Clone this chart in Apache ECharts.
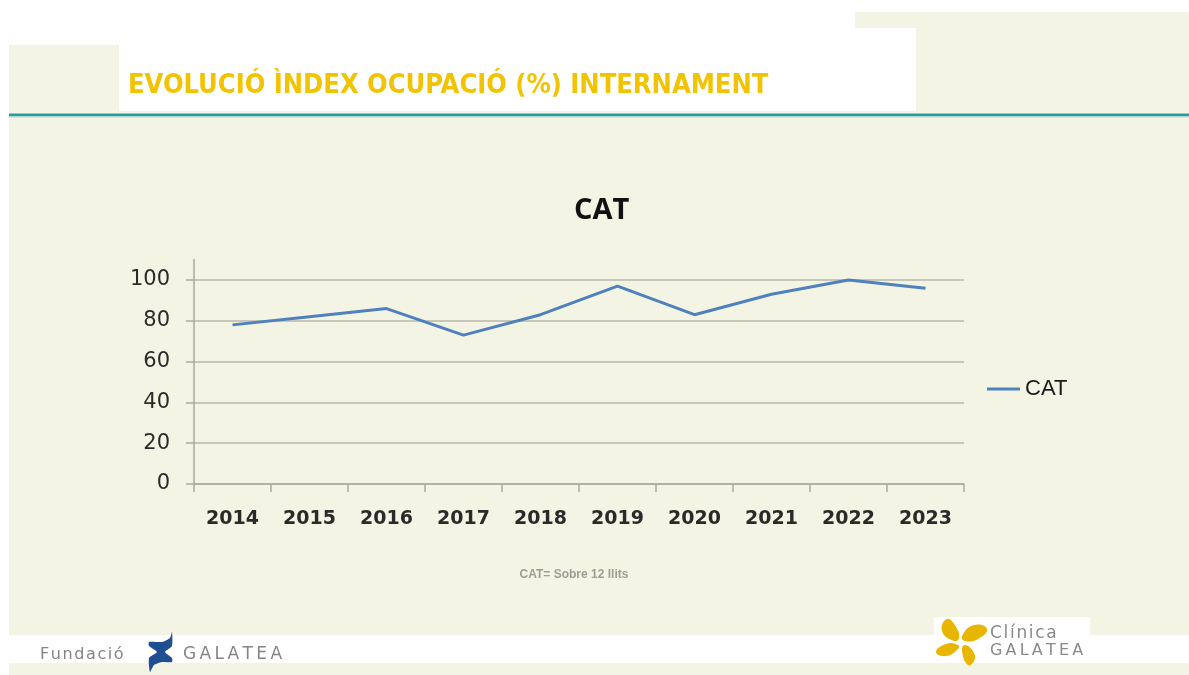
<!DOCTYPE html>
<html>
<head>
<meta charset="utf-8">
<script src="https://cdn.jsdelivr.net/npm/echarts@6/dist/echarts.min.js"></script>
<style>
  html, body { margin: 0; padding: 0; background: #fff; }
  #chart { width: 1189px; height: 675px; }
</style>
</head>
<body>
<div id="chart"></div>
<script>
// dades llegides del gràfic
const years = ['2014', '2015', '2016', '2017', '2018', '2019', '2020', '2021', '2022', '2023'];
const catValues = [78, 82, 86, 73, 83, 97, 83, 93, 100, 96];
const yTicks = [0, 20, 40, 60, 80, 100];
const seriesName = 'CAT';
const slideTitle = 'EVOLUCIÓ ÌNDEX OCUPACIÓ (%) INTERNAMENT';
const footNote = 'CAT= Sobre 12 llits';

const cream = '#f4f4e4';
const blue = '#4f81bd';
const gold = '#e8b600';
const thin = '\u2009';
const hair = '\u200a';

// text amb espai entre lletres
function spaced(s, sep) {
  return s.split('').join(sep);
}

const chart = echarts.init(document.getElementById('chart'));

chart.setOption({
  backgroundColor: '#fff',
  animation: false,
  title: {
    text: seriesName,
    left: 574,
    top: 196,
    padding: 0,
    textStyle: { fontFamily: 'Open Sans', fontWeight: 'bold', fontSize: 29, color: '#111' }
  },
  legend: {
    orient: 'vertical',
    left: 987,
    top: 378,
    padding: 0,
    itemWidth: 33,
    itemHeight: 3,
    data: [{ name: seriesName, icon: 'rect' }],
    textStyle: { fontFamily: 'Liberation Sans', fontSize: 22, color: '#1a1a1a' }
  },
  grid: {
    left: 194,
    right: 225,
    top: 259.6,
    bottom: 191
  },
  xAxis: {
    type: 'category',
    data: years,
    boundaryGap: true,
    axisLine: { lineStyle: { color: '#a9a99f', width: 1.5 } },
    axisTick: { show: true, length: 8, lineStyle: { color: '#a9a99f', width: 1.5 } },
    axisLabel: {
      margin: 26,
      fontFamily: 'DejaVu Sans',
      fontWeight: 'bold',
      fontSize: 19,
      color: '#2a2a2a'
    }
  },
  yAxis: {
    type: 'value',
    min: 0,
    max: 110,
    interval: 20,
    axisLine: { show: true, lineStyle: { color: '#a9a99f', width: 1.5 } },
    axisTick: { show: true, length: 8, customValues: yTicks, lineStyle: { color: '#a9a99f', width: 1.5 } },
    axisLabel: {
      customValues: yTicks,
      margin: 24,
      fontFamily: 'DejaVu Sans',
      fontSize: 21,
      color: '#2a2a2a'
    },
    splitLine: {
      lineStyle: {
        // l'últim (110) no es dibuixa
        color: ['#b8b8ab', '#b8b8ab', '#b8b8ab', '#b8b8ab', '#b8b8ab', '#b8b8ab', 'rgba(0,0,0,0)'],
        width: 1.5
      }
    }
  },
  series: [
    {
      name: seriesName,
      type: 'line',
      data: catValues,
      symbol: 'none',
      lineStyle: { color: blue, width: 3 },
      itemStyle: { color: blue }
    }
  ],
  graphic: [
    // fons de la diapositiva
    { type: 'rect', z: -10, shape: { x: 9, y: 45, width: 1180, height: 630 }, style: { fill: cream } },
    { type: 'rect', z: -10, shape: { x: 855, y: 12, width: 334, height: 40 }, style: { fill: cream } },
    { type: 'rect', z: -9, shape: { x: 119, y: 28, width: 797, height: 83 }, style: { fill: '#fff' } },
    { type: 'rect', z: -9, shape: { x: 9, y: 113.5, width: 1180, height: 2.5 }, style: { fill: '#2b9c9e' } },
    { type: 'rect', z: -9, shape: { x: 9, y: 116, width: 1180, height: 1.5 }, style: { fill: '#a9dad6' } },
    { type: 'rect', z: -9, shape: { x: 9, y: 635, width: 1180, height: 28 }, style: { fill: '#fff' } },
    { type: 'rect', z: -9, shape: { x: 934, y: 617, width: 156, height: 46 }, style: { fill: '#fff' } },
    // títol de la diapositiva
    {
      type: 'text', z: 5, x: 128, y: 86,
      style: {
        text: slideTitle, fill: '#f2c300',
        font: 'bold 27px "DejaVu Sans Condensed", "DejaVu Sans"',
        textVerticalAlign: 'middle'
      }
    },
    // resta tallada a dalt
    {
      type: 'text', z: 5, x: 503, y: 0,
      style: { text: '(%)', fill: '#f2c300', font: 'bold 27px "DejaVu Sans Condensed", "DejaVu Sans"', textVerticalAlign: 'bottom' }
    },
    // nota
    {
      type: 'text', z: 5, x: 574, y: 575,
      style: {
        text: footNote, fill: '#9d9d95', font: 'bold 12px "Liberation Sans"',
        textAlign: 'center', textVerticalAlign: 'middle'
      }
    },
    // logo Fundació
    {
      type: 'text', z: 5, x: 40, y: 655,
      style: { text: spaced('Fundació', hair), fill: '#858585', font: '16px "DejaVu Sans"', textVerticalAlign: 'middle' }
    },
    {
      type: 'polygon', z: 5,
      shape: {
        points: [[172, 632], [170, 638], [162, 642], [149, 642], [149, 646], [157, 652], [149, 658],
                 [150, 672], [154, 665], [162, 662], [172, 662], [172, 658], [165, 652], [172, 646]],
        smooth: 0.2
      },
      style: { fill: '#1f4f91' }
    },
    {
      type: 'text', z: 5, x: 183, y: 655,
      style: { text: spaced('GALATEA', thin), fill: '#858585', font: '17px "DejaVu Sans"', textVerticalAlign: 'middle' }
    },
    // logo Clínica
    {
      type: 'polygon', z: 5,
      shape: { points: [[947, 619], [942, 631], [954, 641], [959, 638], [956, 627]], smooth: 0.5 },
      style: { fill: gold }
    },
    {
      type: 'polygon', z: 5,
      shape: { points: [[987, 629], [974, 625], [962, 636], [965, 641], [978, 639]], smooth: 0.5 },
      style: { fill: gold }
    },
    {
      type: 'polygon', z: 5,
      shape: { points: [[936, 652], [946, 644], [958, 645], [958, 649], [946, 656]], smooth: 0.5 },
      style: { fill: gold }
    },
    {
      type: 'polygon', z: 5,
      shape: { points: [[968, 665], [962, 651], [965, 645], [974, 653], [974, 661]], smooth: 0.5 },
      style: { fill: gold }
    },
    {
      type: 'text', z: 5, x: 990, y: 634,
      style: { text: spaced('Clínica', hair), fill: '#8a8a8a', font: '17px "DejaVu Sans"', textVerticalAlign: 'middle' }
    },
    {
      type: 'text', z: 5, x: 990, y: 651,
      style: { text: spaced('GALATEA', thin), fill: '#8a8a8a', font: '16px "DejaVu Sans"', textVerticalAlign: 'middle' }
    }
  ]
});
</script>
</body>
</html>
